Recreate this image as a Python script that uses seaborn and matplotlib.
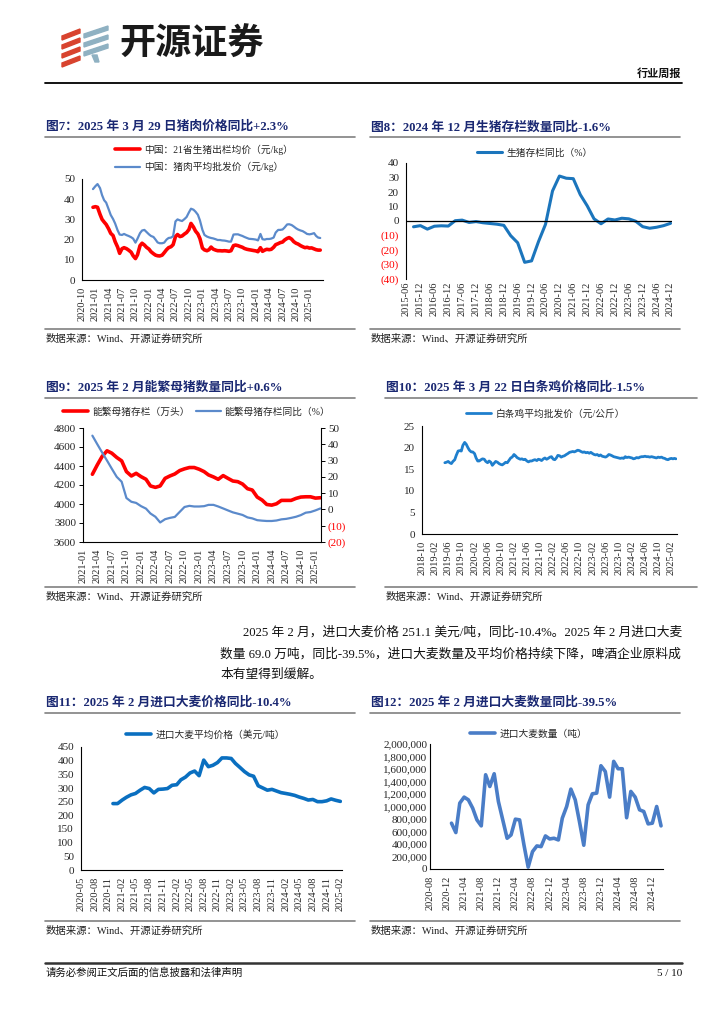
import pandas as pd
import matplotlib
matplotlib.use('Agg')
import matplotlib.pyplot as plt
from matplotlib.lines import Line2D
from matplotlib.patches import Polygon
import seaborn as sns

# ---------------- data ----------------
# 图7 猪价 (半月, 2020-12-15 起)
hog_price_red = [
    36.0,
    36.3, 36.0, 32.5, 30.0, 28.7, 27.5, 25.3, 23.1, 22.0, 19.0, 16.3, 13.2,
    15.5, 16.0, 15.5, 14.8, 13.8, 12.0, 10.6, 12.5, 17.0, 18.2, 17.3, 16.2,
    15.3, 14.0, 13.0, 12.3, 12.0, 11.9, 12.3, 13.5, 15.0, 16.0, 16.5, 17.5,
    21.5, 22.5, 21.5, 21.8, 22.8, 23.5, 25.0, 28.0, 26.2, 24.2, 22.8, 20.5,
    15.8, 14.9, 14.5, 15.0, 16.3, 15.3, 14.8, 14.5, 14.5, 14.4, 14.5, 14.4,
    14.2, 14.5, 17.0, 17.3, 17.0, 16.6, 16.2, 15.6, 15.2, 15.0, 14.8, 14.6,
    14.4, 14.0, 16.0, 14.2, 14.8, 15.2, 15.0, 15.2, 16.2, 17.5, 18.0, 18.5,
    18.8, 19.8, 20.6, 21.0, 20.2, 19.0, 18.2, 17.8, 17.0, 16.5, 16.0, 16.2,
    15.8, 15.9, 15.4, 15.0, 14.8, 14.8,
]
pork_price_blue = [
    45.0,
    46.5, 47.5, 45.5, 42.0, 39.5, 38.3, 35.0, 32.2, 30.2, 28.0, 24.6, 22.5,
    22.3, 22.8, 22.2, 21.8, 21.2, 20.5, 18.5, 20.5, 23.2, 24.5, 24.8, 23.8,
    22.6, 21.8, 21.3, 20.0, 18.6, 18.2, 18.2, 18.5, 20.0, 20.8, 21.0, 21.7,
    29.0, 30.0, 29.5, 29.2, 30.2, 31.2, 33.5, 35.3, 34.8, 33.8, 32.3, 29.5,
    24.8, 22.3, 21.5, 21.1, 20.8, 20.6, 20.2, 19.8, 19.8, 19.6, 19.5, 19.3,
    19.0, 19.0, 22.5, 22.6, 22.6, 22.2, 21.8, 21.3, 20.8, 20.4, 20.3, 20.2,
    20.0, 19.6, 22.8, 20.2, 20.0, 20.3, 20.3, 20.5, 21.0, 23.5, 24.8, 24.8,
    25.0, 26.0, 27.5, 27.6, 27.2, 26.5, 25.6, 25.0, 24.5, 24.2, 23.5, 22.8,
    22.6, 22.8, 23.2, 21.8, 21.0, 20.8,
]
hog_label_red = '中国：21省生猪出栏均价（元/kg）'
pork_label_blue = '中国：猪肉平均批发价（元/kg）'

# 图8 生猪存栏同比 (季度, 2015-09 起)
hog_stock_yoy = [
    -4.0, -3.2, -5.6, -3.6, -3.3, -3.5, 0.2, 0.6, -1.0, -0.4,
    -1.2, -1.7, -2.2, -3.0, -10.1, -15.0, -28.5, -27.5, -14.2, -2.3,
    20.7, 31.0, 29.5, 29.2, 18.2, 10.5, 1.5, -1.9, 1.4, 0.7,
    1.9, 1.5, -0.2, -3.9, -5.0, -4.3, -3.2, -1.6,
]

# 图9 能繁母猪 (月度, 2021-03 起)
sow_stock = [
    4313, 4412, 4500, 4560, 4535, 4490, 4454, 4341, 4295, 4323,
    4288, 4260, 4190, 4175, 4190, 4270, 4295, 4316, 4352, 4370, 4384, 4384,
    4366, 4341, 4306, 4285, 4260, 4299, 4270, 4242, 4235, 4210, 4161, 4147,
    4073, 4041, 3995, 3988, 4002, 4038, 4038, 4038, 4059, 4073, 4076, 4076,
    4062, 4066,
]
sow_yoy = [
    45.3, 40.0, 35.0, 30.0, 25.0, 20.0, 17.0, 7.0, 4.7, 4.0,
    2.0, 0.5, -2.5, -4.5, -8.0, -6.0, -5.2, -4.6, -1.5, 1.5, 2.2, 1.8,
    1.8, 2.0, 2.8, 2.8, 1.8, 0.6, -0.6, -1.8, -2.6, -3.4, -4.9, -5.5,
    -6.6, -6.9, -7.1, -7.1, -6.8, -6.1, -5.8, -5.2, -4.5, -3.5, -2.0, -1.6,
    -0.6, 0.6,
]

# 图10 白条鸡平均批发价 (半月, 2019-05-01 起)
chicken_price = [
    16.5, 16.6, 16.8, 16.5, 16.3, 16.8, 17.2, 18.2, 19.2, 19.3, 19.2, 20.5, 21.2, 20.8, 20.0, 19.4,
    19.0, 19.0, 18.6, 17.6, 16.9, 16.9, 17.2, 17.4, 17.3, 16.8, 16.5, 16.9,
    16.6, 15.9, 16.4, 16.8, 16.6, 16.3, 16.1, 16.0, 16.3, 16.6, 16.5, 17.0,
    17.6, 17.8, 18.4, 18.1, 17.7, 17.5, 17.3, 17.4, 17.2, 17.3, 16.9, 16.7,
    16.9, 16.9, 17.1, 17.2, 17.0, 17.3, 17.2, 17.0, 17.4, 17.6, 17.3, 17.5,
    17.8, 17.9, 17.3, 17.2, 17.6, 18.2, 18.1, 17.8, 18.0, 18.1, 18.4, 18.6,
    18.9, 19.0, 19.1, 19.0, 19.2, 19.4, 19.3, 19.1, 18.9, 19.0, 18.8, 18.9,
    18.7, 18.9, 18.6, 18.4, 18.3, 18.4, 18.1, 18.3, 18.0, 17.9, 17.8, 18.0,
    18.4, 18.3, 18.1, 17.9, 17.8, 17.7, 17.6, 17.5, 17.6, 17.5, 17.9, 17.7,
    17.8, 17.7, 17.6, 17.4, 17.5, 17.7, 17.6, 17.8, 17.9, 17.9, 18.0, 17.9,
    17.9, 17.8, 17.9, 17.8, 17.7, 17.6, 17.8, 17.7, 17.8, 17.6, 17.5, 17.3,
    17.2, 17.4, 17.5, 17.4, 17.5, 17.4,
]

# 图11 进口大麦平均价格 (月度, 2020-12 起)
barley_price = [
    243,
    243, 256, 266, 275, 280, 292, 302, 298, 282, 295, 296, 298,
    310, 312, 330, 340, 355, 362, 345, 402, 378, 383, 393, 410,
    410, 408, 390, 375, 360, 348, 343, 308, 300, 292, 295, 289,
    283, 280, 277, 273, 267, 262, 256, 258, 250, 250, 253, 260,
    255, 251,
]

# 图12 进口大麦数量 (月度, 2021-01 起)
barley_volume = [
    733000, 583000, 1054000, 1150000, 1107000, 973000, 786000, 690000, 1508000, 1320000, 1524000, 1080000,
    786000, 492000, 545000, 797000, 786000, 385000, 30000, 278000, 369000, 358000, 529000, 481000,
    492000, 465000, 813000, 1000000, 1278000, 1107000, 760000, 380000, 1027000, 1203000, 1214000, 1652000,
    1560000, 1150000, 1722000, 1604000, 1604000, 820000, 1241000, 1150000, 947000, 920000, 722000, 733000,
    1000000, 690000,
]

# ---------------- style ----------------
sns.set_theme(style='white')
plt.rcParams['font.family'] = ['Liberation Serif', 'Noto Sans CJK SC']
plt.rcParams['axes.unicode_minus'] = False
plt.rcParams['xtick.labelsize'] = 7.5
plt.rcParams['ytick.labelsize'] = 8

W, H = 724, 1024
fig = plt.figure(figsize=(W / 100, H / 100), dpi=100)
TITLE_C = '#1a2872'
GRID_C = '#808080'
SRC = '数据来源：Wind、开源证券研究所'


def box(x0, y0, x1, y1):
    return [x0 / W, 1 - y1 / H, (x1 - x0) / W, (y1 - y0) / H]


def hline(x0, x1, y, color=GRID_C, lw=1.2):
    fig.add_artist(Line2D([x0 / W, x1 / W], [1 - y / H, 1 - y / H], color=color, lw=lw))


def ftext(x, y, s, **kw):
    kw.setdefault('va', 'center')
    fig.text(x / W, 1 - y / H, s, **kw)


def panel_frame(x0, x1, title, ytitle, ysrc):
    ftext(x0 + 1, ytitle, title, fontsize=9.2, fontweight='bold', color=TITLE_C)
    hline(x0, x1, ytitle + 10)
    hline(x0, x1, ysrc - 10)
    ftext(x0 + 1, ysrc, SRC, fontsize=7.5, color='#222222')


def style_axes(ax, ticks, tick_dir='out'):
    for s in ['top', 'right']:
        ax.spines[s].set_visible(False)
    for s in ['left', 'bottom']:
        ax.spines[s].set_color('#000000')
        ax.spines[s].set_linewidth(0.8)
    ax.set_xticks(ticks)
    ax.set_xticklabels([t.strftime('%Y-%m') for t in ticks], rotation=90)
    ax.tick_params(axis='both', direction=tick_dir, length=3, width=0.7, color='#000000', pad=2)
    ax.set_xlabel('')
    ax.set_ylabel('')


def put_legend(ax, x, y, ncol=1, handles=None, labels=None, **kw):
    if handles is None:
        handles, labels = ax.get_legend_handles_labels()
    ax.legend(handles, labels, loc='center left', bbox_to_anchor=(x / W, 1 - y / H),
              bbox_transform=fig.transFigure, frameon=False, ncol=ncol, fontsize=7,
              handlelength=2.6, handletextpad=0.4, borderpad=0, borderaxespad=0,
              labelspacing=0.75, columnspacing=0.6, **kw)


# ---------------- header ----------------
red_c, blue_c = '#d8432e', '#8fb1c2'
for yy in [30, 39, 48, 57]:
    fig.add_artist(Polygon([(62 / W, 1 - (yy + 6) / H), (80 / W, 1 - (yy - 1) / H),
                            (80 / W, 1 - (yy + 3) / H), (62 / W, 1 - (yy + 10) / H)],
                           closed=True, color=red_c))
for yy in [27, 36, 45]:
    fig.add_artist(Polygon([(84 / W, 1 - (yy + 7) / H), (108 / W, 1 - (yy - 1) / H),
                            (108 / W, 1 - (yy + 3) / H), (84 / W, 1 - (yy + 11) / H)],
                           closed=True, color=blue_c))
fig.add_artist(Polygon([(92 / W, 1 - 55 / H), (97 / W, 1 - 55 / H), (99 / W, 1 - 62 / H), (95 / W, 1 - 62 / H)],
                       closed=True, color=blue_c))
ftext(119, 44, '开源证券', fontsize=26, fontweight='bold', color='#1a1a1a', family='Noto Sans CJK SC')
ftext(681, 74, '行业周报', fontsize=8, fontweight='bold', ha='right', color='#111111')
hline(45, 682, 83, color='#000000', lw=1.3)

# ---------------- 图7 ----------------
panel_frame(45, 355, '图7：2025 年 3 月 29 日猪肉价格同比+2.3%', 127, 339)
ax7 = fig.add_axes(box(82, 179, 323, 280))
d7 = pd.date_range('2020-12-15', periods=len(hog_price_red), freq='SMS')
sns.lineplot(x=d7, y=hog_price_red, ax=ax7, color='#ff0000', lw=2.6, label=hog_label_red)
sns.lineplot(x=d7, y=pork_price_blue, ax=ax7, color='#5b8acb', lw=1.6, label=pork_label_blue)
ax7.set_ylim(0, 50)
ax7.set_yticks(range(0, 51, 10))
ax7.set_xlim(pd.Timestamp('2020-10-01'), pd.Timestamp('2025-04-03'))
style_axes(ax7, pd.date_range('2020-10-01', '2025-01-01', freq='3MS'))
put_legend(ax7, 115, 158.5)

# ---------------- 图8 ----------------
panel_frame(370, 680, '图8：2024 年 12 月生猪存栏数量同比-1.6%', 127, 339)
ax8 = fig.add_axes(box(406, 163, 672, 279))
d8 = pd.date_range('2015-09-01', periods=len(hog_stock_yoy), freq='QS-MAR')
sns.lineplot(x=d8, y=hog_stock_yoy, ax=ax8, color='#1b75bc', lw=2.2, label='生猪存栏同比（%）')
ax8.axhline(0, color='#000000', lw=0.9)
ax8.set_ylim(-40, 40)
y8 = list(range(-40, 41, 10))
ax8.set_yticks(y8)
ax8.set_xlim(pd.Timestamp('2015-05-25'), pd.Timestamp('2024-12-20'))
style_axes(ax8, pd.date_range('2015-06-01', '2024-12-01', freq='6MS'))
ax8.spines['bottom'].set_visible(False)
ax8.tick_params(axis='x', length=0)
ax8.set_yticklabels([f'({abs(v)})' if v < 0 else str(v) for v in y8])
for lbl, v in zip(ax8.get_yticklabels(), y8):
    if v < 0:
        lbl.set_color('#ff0000')
put_legend(ax8, 477, 153)

# ---------------- 图9 ----------------
panel_frame(45, 355, '图9：2025 年 2 月能繁母猪数量同比+0.6%', 388, 597)
ax9 = fig.add_axes(box(83, 428, 321, 542))
d9 = pd.date_range('2021-03-01', periods=len(sow_stock), freq='MS')
sns.lineplot(x=d9, y=sow_stock, ax=ax9, color='#ff0000', lw=2.6, label='能繁母猪存栏（万头）', legend=False)
ax9.set_ylim(3600, 4800)
ax9.set_yticks(range(3600, 4801, 200))
ax9.set_xlim(pd.Timestamp('2021-01-01'), pd.Timestamp('2025-02-05'))
style_axes(ax9, pd.date_range('2021-01-01', '2025-01-01', freq='3MS'))
ax9r = ax9.twinx()
sns.lineplot(x=d9, y=sow_yoy, ax=ax9r, color='#5b8acb', lw=1.6, label='能繁母猪存栏同比（%）', legend=False)
ax9r.set_ylim(-20, 50)
y9 = list(range(-20, 51, 10))
ax9r.set_yticks(y9)
ax9r.set_yticklabels([f'({abs(v)})' if v < 0 else str(v) for v in y9])
for lbl, v in zip(ax9r.get_yticklabels(), y9):
    if v < 0:
        lbl.set_color('#ff0000')
ax9r.set_ylabel('')
for s in ['top', 'left', 'bottom']:
    ax9r.spines[s].set_visible(False)
ax9r.spines['right'].set_color('#000000')
ax9r.spines['right'].set_linewidth(0.8)
ax9r.tick_params(axis='y', direction='out', length=3, width=0.7, color='#000000', pad=2)
h1, l1 = ax9.get_legend_handles_labels()
h2, l2 = ax9r.get_legend_handles_labels()
put_legend(ax9r, 63, 412, ncol=2, handles=h1 + h2, labels=l1 + l2)

# ---------------- 图10 ----------------
panel_frame(385, 697, '图10：2025 年 3 月 22 日白条鸡价格同比-1.5%', 388, 597)
ax10 = fig.add_axes(box(422, 426, 677, 534))
d10 = pd.date_range('2019-05-01', periods=len(chicken_price), freq='SMS')
sns.lineplot(x=d10, y=chicken_price, ax=ax10, color='#1f7fcd', lw=2.0, label='白条鸡平均批发价（元/公斤）')
ax10.set_ylim(0, 25)
ax10.set_yticks(range(0, 26, 5))
ax10.set_xlim(pd.Timestamp('2018-10-01'), pd.Timestamp('2025-03-25'))
style_axes(ax10, pd.date_range('2018-10-01', '2025-02-01', freq='4MS'))
put_legend(ax10, 466, 414)

# ---------------- 正文 ----------------
body_kw = dict(fontsize=9.2, color='#111111')
ftext(243, 632, '2025 年 2 月，进口大麦价格 251.1 美元/吨，同比-10.4%。2025 年 2 月进口大麦', **body_kw)
ftext(220, 654, '数量 69.0 万吨，同比-39.5%，进口大麦数量及平均价格持续下降，啤酒企业原料成', **body_kw)
ftext(220, 675, '本有望得到缓解。', **body_kw)

# ---------------- 图11 ----------------
panel_frame(45, 355, '图11：2025 年 2 月进口大麦价格同比-10.4%', 703, 931)
ax11 = fig.add_axes(box(81, 747, 342, 870))
d11 = pd.date_range('2020-12-01', periods=len(barley_price), freq='MS')
sns.lineplot(x=d11, y=barley_price, ax=ax11, color='#0a6fc0', lw=2.6, label='进口大麦平均价格（美元/吨）')
ax11.set_ylim(0, 450)
ax11.set_yticks(range(0, 451, 50))
ax11.set_xlim(pd.Timestamp('2020-05-01'), pd.Timestamp('2025-02-12'))
style_axes(ax11, pd.date_range('2020-05-01', '2025-02-01', freq='3MS'))
put_legend(ax11, 126, 735)

# ---------------- 图12 ----------------
panel_frame(370, 680, '图12：2025 年 2 月进口大麦数量同比-39.5%', 703, 931)
ax12 = fig.add_axes(box(430, 744, 663, 869))
d12 = pd.date_range('2021-01-01', periods=len(barley_volume), freq='MS')
sns.lineplot(x=d12, y=barley_volume, ax=ax12, color='#4a7dc7', lw=2.6, label='进口大麦数量（吨）')
ax12.set_ylim(0, 2000000)
y12 = list(range(0, 2000001, 200000))
ax12.set_yticks(y12)
ax12.set_yticklabels([f'{v:,}' for v in y12])
ax12.set_xlim(pd.Timestamp('2020-08-01'), pd.Timestamp('2025-02-15'))
style_axes(ax12, pd.date_range('2020-08-01', '2024-12-01', freq='4MS'), tick_dir='in')
ax12.tick_params(axis='x', direction='out')
put_legend(ax12, 470, 734)

# ---------------- footer ----------------
hline(45, 682, 963, color='#333333', lw=1.8)
ftext(46, 973, '请务必参阅正文后面的信息披露和法律声明', fontsize=7.5, color='#111111')
ftext(682, 973, '5 / 10', fontsize=8, ha='right', color='#111111')

fig.savefig('out.png', dpi=100)
